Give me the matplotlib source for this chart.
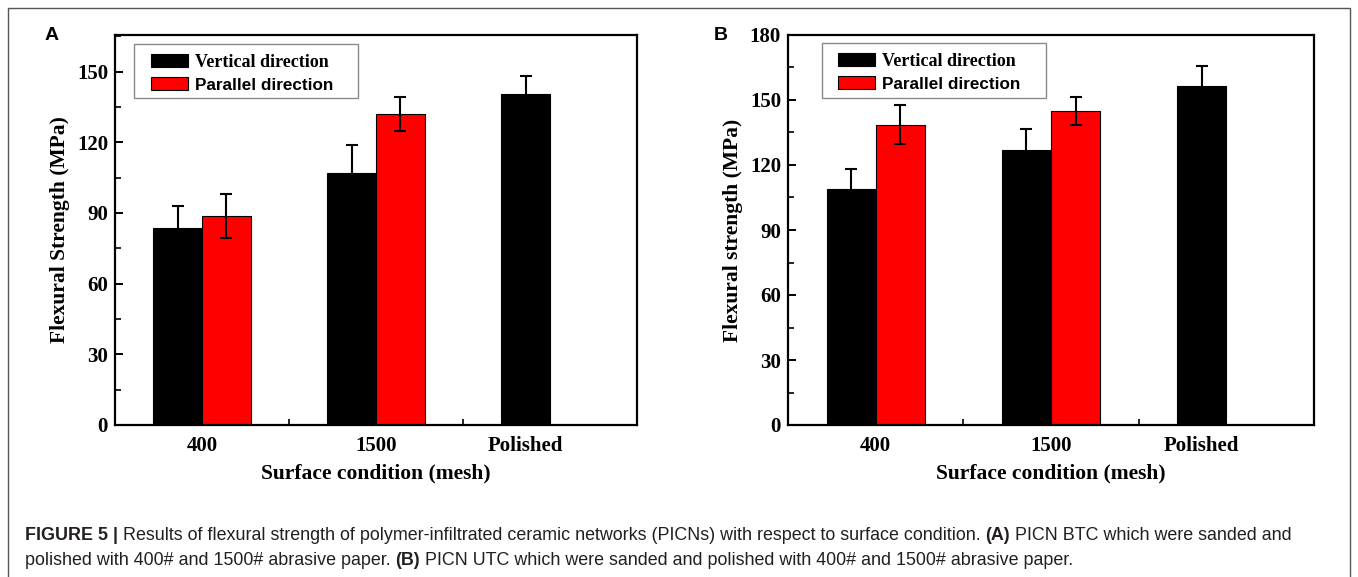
import matplotlib
matplotlib.use("Agg")
import matplotlib.pyplot as plt
import numpy as np
from matplotlib.patches import Rectangle

# ---------------- data ----------------
categories = ["400", "1500", "Polished"]
series_names = ["Vertical direction", "Parallel direction"]

a_vertical = [83.5, 107.0, 140.3]
a_vertical_err = [9.4, 11.8, 7.8]
a_parallel = [88.7, 132.0]
a_parallel_err = [9.3, 7.4]

b_vertical = [108.8, 127.0, 156.5]
b_vertical_err = [9.3, 9.6, 9.2]
b_parallel = [138.6, 145.0]
b_parallel_err = [9.0, 6.6]

a_yticks = [0, 30, 60, 90, 120, 150]
b_yticks = [0, 30, 60, 90, 120, 150, 180]

W, H = 1358, 577
fig = plt.figure(figsize=(W / 100, H / 100), dpi=100)

SERIF = "Liberation Serif"
SANS = "Liberation Sans"
RED = "#ff0000"


def px_axes(left, right, top, bottom):
    ax = fig.add_axes([left / W, 1 - bottom / H, (right - left) / W, (bottom - top) / H])
    ax._px = (left, right, top, bottom)
    return ax


def to_ax(ax, px, py):
    l, r, t, b = ax._px
    return (px - l) / (r - l), (b - py) / (b - t)


def panel(ax, vert, vert_err, par, par_err, ylim, yticks, ylabel, box_px, handle_px):
    bw = 0.28
    x = np.arange(len(categories))
    ax.bar(x - bw / 2, vert, bw, color="black", edgecolor="black", linewidth=0.8,
           label=series_names[0], zorder=2)
    xp = np.arange(len(par))
    ax.bar(xp + bw / 2, par, bw, color=RED, edgecolor="black", linewidth=0.8,
           label=series_names[1], zorder=2)
    ax.errorbar(x - bw / 2, vert, yerr=vert_err, fmt="none", ecolor="black",
                elinewidth=1.5, capsize=4.5, capthick=1.5, zorder=3)
    ax.errorbar(xp + bw / 2, par, yerr=par_err, fmt="none", ecolor="black",
                elinewidth=1.5, capsize=4.5, capthick=1.5, zorder=3)

    ax.set_xlim(-0.5, 2.5)
    ax.set_ylim(*ylim)
    ax.set_yticks(yticks)
    minors = [t + 15 for t in yticks if t + 15 < ylim[1]]
    ax.set_yticks(minors, minor=True)
    tick_pos = [0, 1, 2 - bw / 2]
    ax.set_xticks(tick_pos)
    ax.set_xticklabels(categories)
    ax.set_xticks([0.5, 1.5], minor=True)

    for s in ax.spines.values():
        s.set_linewidth(1.6)
    ax.tick_params(axis="y", which="major", direction="in", length=6, width=1.4, pad=5,
                   labelsize=15)
    ax.tick_params(axis="y", which="minor", direction="in", length=4, width=1.2)
    ax.tick_params(axis="x", which="major", length=0, pad=8, labelsize=15)
    ax.tick_params(axis="x", which="minor", direction="in", length=4, width=1.2)
    for lab in ax.get_xticklabels() + ax.get_yticklabels():
        lab.set_fontfamily(SERIF)
        lab.set_fontweight("bold")

    ax.set_xlabel("Surface condition (mesh)", fontsize=15.5, fontfamily=SERIF,
                  fontweight="bold", labelpad=5)
    ax.set_ylabel(ylabel, fontsize=15.5, fontfamily=SERIF, fontweight="bold", labelpad=5)

    # legend box
    bx0, by0, bx1, by1 = box_px
    ax0, ay1 = to_ax(ax, bx0, by0)
    ax1, ay0 = to_ax(ax, bx1, by1)
    ax.add_patch(Rectangle((ax0, ay0), ax1 - ax0, ay1 - ay0, transform=ax.transAxes,
                           facecolor="white", edgecolor="#8a8a8a", linewidth=1.0,
                           zorder=4, clip_on=False))
    hx, hy = to_ax(ax, *handle_px)
    leg = ax.legend(loc="upper left", bbox_to_anchor=(hx, hy), borderaxespad=0,
                    borderpad=0, fontsize=13, frameon=False,
                    handlelength=2.05, handleheight=0.72, handletextpad=0.38,
                    labelspacing=0.36)
    leg.set_zorder(5)
    t = leg.get_texts()
    t[0].set_fontfamily(SERIF)
    t[0].set_fontweight("bold")
    t[1].set_fontfamily(SANS)
    t[1].set_fontweight("bold")
    t[1].set_fontsize(12.3)


axA = px_axes(115, 637, 35, 425)
panel(axA, a_vertical, a_vertical_err, a_parallel, a_parallel_err, (0, 165.5), a_yticks,
      "Flexural Strength (MPa)", (134, 44, 358, 98), (151, 54))

axB = px_axes(788, 1314, 35, 425)
panel(axB, b_vertical, b_vertical_err, b_parallel, b_parallel_err, (0, 180), b_yticks,
      "Flexural strength (MPa)", (822, 43, 1046, 98), (838, 53))

fig.text(52 / W, 1 - 36 / H, "A", fontsize=14, fontweight="bold", fontfamily=SANS,
         ha="center", va="center")
fig.text(721 / W, 1 - 36 / H, "B", fontsize=14, fontweight="bold", fontfamily=SANS,
         ha="center", va="center")

# outer frame
fig.patches.append(Rectangle((8 / W, -0.05), (1350 - 8) / W, 1.05 - 8 / H,
                             transform=fig.transFigure, fill=False,
                             edgecolor="#555555", linewidth=1.0))

# caption
caption_lines = [
    [("FIGURE 5 |", "bold"),
     (" Results of flexural strength of polymer-infiltrated ceramic networks (PICNs) with respect to surface condition. ", "normal"),
     ("(A)", "bold"),
     (" PICN BTC which were sanded and", "normal")],
    [("polished with 400# and 1500# abrasive paper. ", "normal"),
     ("(B)", "bold"),
     (" PICN UTC which were sanded and polished with 400# and 1500# abrasive paper.", "normal")],
]
caption_baselines = [540, 565]
renderer = fig.canvas.get_renderer()
for line, yb in zip(caption_lines, caption_baselines):
    xcur = 25.0
    for txt, wt in line:
        t = fig.text(xcur / W, 1 - yb / H, txt, fontsize=12.9, fontweight=wt,
                     fontfamily=SANS, color="#231f20", ha="left", va="baseline")
        bb = t.get_window_extent(renderer=renderer)
        xcur += bb.width

fig.savefig("out.png", dpi=100)
